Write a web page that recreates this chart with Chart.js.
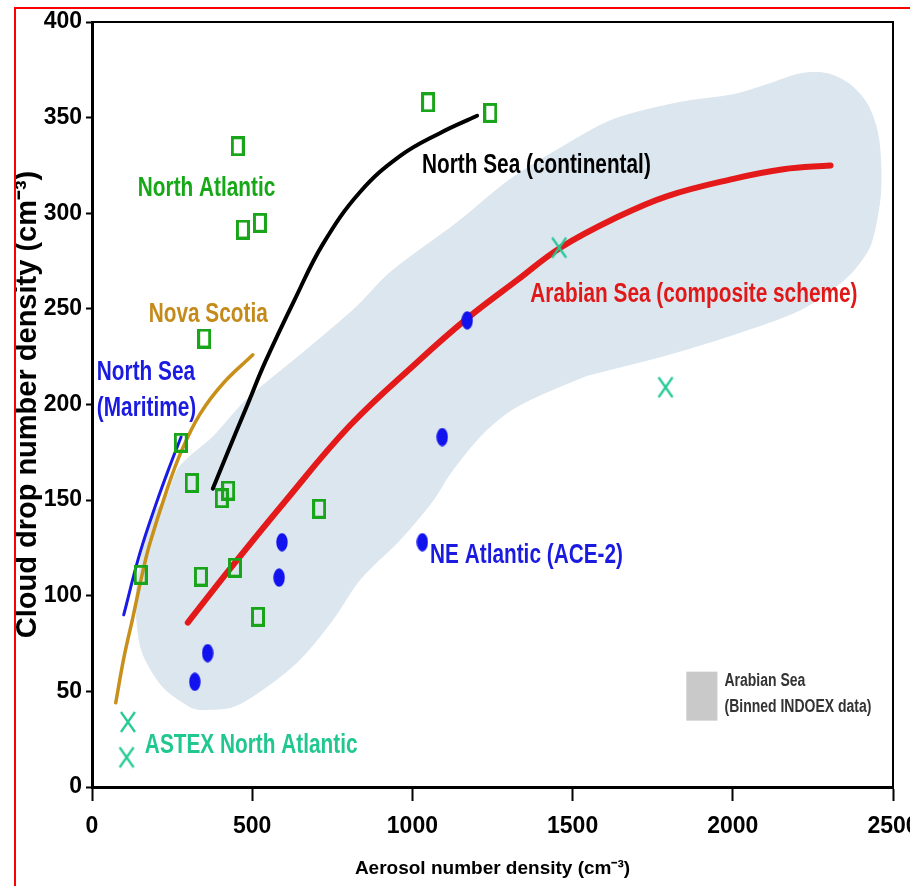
<!DOCTYPE html>
<html>
<head>
<meta charset="utf-8">
<script src="https://cdn.jsdelivr.net/npm/chart.js@4.4.1/dist/chart.umd.min.js"></script>
<style>
  html, body { margin: 0; padding: 0; background: #fff; overflow: hidden; }
  #wrap { position: relative; width: 910px; height: 886px; }
  #frame { position: absolute; left: 14px; top: 7px; width: 920px; height: 900px;
           border-left: 2px solid #f00; border-top: 2px solid #f00; pointer-events: none; }
</style>
</head>
<body>
<div id="wrap">
  <canvas id="chart" width="910" height="886"></canvas>
  <div id="frame"></div>
</div>
<script>
// Tick labels
var xTickValues = [0, 500, 1000, 1500, 2000, 2500];
var yTickValues = [0, 50, 100, 150, 200, 250, 300, 350, 400];

// North Atlantic (open squares)
var northAtlanticX = [455, 471, 524, 350, 277, 311, 425, 405, 709, 152, 340, 446, 518, 1049, 1243];
var northAtlanticY = [335, 291.5, 295, 234.5, 180, 159, 155, 151, 145.5, 111, 110, 114.7, 89, 358, 352.5];

// NE Atlantic (ACE-2) (filled dots)
var aceX = [321, 361, 584, 593, 1031, 1093, 1171];
var aceY = [55, 70, 109.5, 128, 128, 183, 244];

// ASTEX North Atlantic (crosses)
var astexX = [112, 108, 1458, 1790];
var astexY = [34, 15.5, 282, 209];

// Arabian Sea (composite scheme) curve
var arabianX = [299, 440, 596, 805, 1014, 1171, 1327, 1462, 1640, 1796, 2002, 2158, 2305];
var arabianY = [86, 116, 148, 189, 222, 245, 265, 282, 298, 309, 318, 323, 325];

// North Sea (continental) curve
var continentalX = [377, 421, 483, 540, 633, 721, 836, 962, 1087, 1202];
var continentalY = [156, 174, 199, 222, 255, 284, 311, 330, 342, 351];

// Nova Scotia curve
var novaScotiaX = [74, 100, 128, 155, 180, 233, 280, 337, 409, 502];
var novaScotiaY = [44, 68, 89, 110, 127, 155, 176, 195, 211, 226];

// North Sea (Maritime) curve
var maritimeX = [99, 149, 202, 250, 278];
var maritimeY = [90, 122, 149, 171, 183];

// Arabian Sea binned INDOEX data envelope (outline, closed)
var envelopeX = [337, 305, 221, 158, 140, 140, 180, 233, 273, 377, 483, 671, 827, 930, 1140, 1305, 1471, 1627,
  1836, 2002, 2108, 2212, 2296, 2368, 2421, 2452, 2462, 2459, 2430, 2384, 2337, 2212, 2002, 1796, 1587, 1534,
  1327, 1221, 1118, 1065, 962, 837, 752, 649, 546, 440, 337];
var envelopeY = [40.4, 42, 52.4, 70, 87.2, 104.5, 139.6, 151.7, 167.4, 183, 202.6, 228.8, 251.3, 269, 295.2, 317.7, 335, 349,
  358, 362, 367.3, 373, 373, 367, 356.7, 342, 324.3, 307, 283.5, 271.5, 263.7, 249.6, 236.6, 226, 217, 214.5,
  199, 185, 164, 150, 129.4, 108.6, 87.6, 66.7, 52.6, 42, 40.4];

function pts(xs, ys) {
  return xs.map(function (x, i) { return { x: x, y: ys[i] }; });
}

function makeMarker(w, h, draw) {
  var c = document.createElement('canvas');
  c.width = w; c.height = h;
  draw(c.getContext('2d'), w, h);
  return c;
}

var squareMark = makeMarker(14, 20, function (g, w, h) {
  g.strokeStyle = '#19a519'; g.lineWidth = 3;
  g.strokeRect(1.5, 1.5, w - 3, h - 3);
});
var dotMark = makeMarker(12, 19, function (g, w, h) {
  g.fillStyle = '#1212ee';
  g.beginPath(); g.ellipse(w / 2, h / 2, w / 2 - 0.3, h / 2 - 0.3, 0, 0, Math.PI * 2); g.fill();
});
var crossMark = makeMarker(18, 24, function (g, w, h) {
  g.strokeStyle = '#22c994'; g.lineWidth = 2.2;
  g.beginPath();
  g.moveTo(2, 2); g.lineTo(w - 2, h - 2);
  g.moveTo(w - 2, 2); g.lineTo(2, h - 2);
  g.stroke();
});

var tickFont = { family: "'Liberation Sans', sans-serif", size: 23, weight: 'bold' };
var xTitleFont = { family: "'Liberation Sans', sans-serif", size: 19, weight: 'bold' };

// Text labels placed in data units (left edge, vertical middle)
var labels = [
  { text: 'North Atlantic', x: 143, y: 313, color: '#17a817' },
  { text: 'Nova Scotia', x: 177, y: 247, color: '#c48a1a' },
  { text: 'North Sea', x: 15, y: 217, color: '#1a1ae0' },
  { text: '(Maritime)', x: 15, y: 198, color: '#1a1ae0' },
  { text: 'North Sea (continental)', x: 1030, y: 325, color: '#000000' },
  { text: 'Arabian Sea (composite scheme)', x: 1368, y: 257.5, color: '#e01818' },
  { text: 'NE Atlantic (ACE-2)', x: 1055, y: 121, color: '#1a1ae0' },
  { text: 'ASTEX North Atlantic', x: 165, y: 22, color: '#20c88f' }
];
var legendBox = { x0: 1855, x1: 1952, y0: 60.3, y1: 34.7, textX: 1974, line1: 55.7, line2: 42 };

function drawCondensed(ctx, text, px, py, size, color) {
  ctx.save();
  ctx.translate(px, py);
  ctx.scale(0.8, 1.08);
  ctx.font = 'bold ' + size + "px 'Liberation Sans', sans-serif";
  ctx.fillStyle = color;
  ctx.textAlign = 'left';
  ctx.textBaseline = 'middle';
  ctx.fillText(text, 0, 0);
  ctx.restore();
}

var overlayPlugin = {
  id: 'overlay',
  afterDatasetsDraw: function (chart) {
    var ctx = chart.ctx, xs = chart.scales.x, ys = chart.scales.y, a = chart.chartArea;
    ctx.save();
    // frame on top and right
    ctx.strokeStyle = '#000';
    ctx.lineWidth = 2;
    ctx.beginPath();
    ctx.moveTo(a.left, a.top);
    ctx.lineTo(a.right, a.top);
    ctx.lineTo(a.right, a.bottom);
    ctx.stroke();

    labels.forEach(function (l) {
      drawCondensed(ctx, l.text, xs.getPixelForValue(l.x), ys.getPixelForValue(l.y), 26, l.color);
    });

    // legend for the shaded envelope
    var lx0 = xs.getPixelForValue(legendBox.x0), lx1 = xs.getPixelForValue(legendBox.x1);
    var ly0 = ys.getPixelForValue(legendBox.y0), ly1 = ys.getPixelForValue(legendBox.y1);
    ctx.fillStyle = '#c9c9c9';
    ctx.fillRect(lx0, ly0, lx1 - lx0, ly1 - ly0);
    drawCondensed(ctx, 'Arabian Sea', xs.getPixelForValue(legendBox.textX), ys.getPixelForValue(legendBox.line1), 17.5, '#333');
    drawCondensed(ctx, '(Binned INDOEX data)', xs.getPixelForValue(legendBox.textX), ys.getPixelForValue(legendBox.line2), 17.5, '#333');
    ctx.restore();
  }
};

function curve(data, color, width) {
  return {
    data: data, showLine: true, borderColor: color, backgroundColor: color,
    borderWidth: width, pointRadius: 0, fill: false,
    tension: 0.4, borderCapStyle: 'round', order: 1
  };
}

function plainLabel(v) { return String(v); }

new Chart(document.getElementById('chart').getContext('2d'), {
  type: 'scatter',
  data: {
    datasets: [
      {
        label: 'Arabian Sea (Binned INDOEX data)', data: pts(envelopeX, envelopeY),
        showLine: true, fill: 'shape', backgroundColor: '#dce6ee', borderColor: '#dce6ee',
        borderWidth: 1, pointRadius: 0, tension: 0.3, order: 10
      },
      curve(pts(arabianX, arabianY), '#e41a1a', 6),
      curve(pts(continentalX, continentalY), '#000000', 4),
      curve(pts(novaScotiaX, novaScotiaY), '#c8901a', 3.5),
      curve(pts(maritimeX, maritimeY), '#1a1ae6', 3),
      { label: 'North Atlantic', data: pts(northAtlanticX, northAtlanticY), pointStyle: squareMark, pointRadius: 8, order: 0 },
      { label: 'NE Atlantic (ACE-2)', data: pts(aceX, aceY), pointStyle: dotMark, pointRadius: 8, order: 0 },
      { label: 'ASTEX North Atlantic', data: pts(astexX, astexY), pointStyle: crossMark, pointRadius: 8, order: 0 }
    ]
  },
  options: {
    responsive: false,
    animation: false,
    layout: { padding: { left: 0, top: 22, right: 17, bottom: 0 } },
    plugins: { legend: { display: false }, tooltip: { enabled: false } },
    scales: {
      x: {
        type: 'linear', min: 0, max: 2500,
        afterBuildTicks: function (s) { s.ticks = xTickValues.map(function (v) { return { value: v }; }); },
        afterFit: function (s) { s.height = 99; s.paddingLeft = 0; s.paddingRight = 0; },
        border: { display: true, color: '#000', width: 3 },
        grid: { drawOnChartArea: false, drawTicks: true, tickLength: 14, tickWidth: 2, tickColor: '#000' },
        ticks: { color: '#000', font: tickFont, padding: 12, maxRotation: 0, callback: plainLabel },
        title: { display: true, text: 'Aerosol number density (cm\u207B\u00B3)', color: '#000', font: xTitleFont, padding: { bottom: 6 } }
      },
      y: {
        type: 'linear', min: 0, max: 400,
        afterBuildTicks: function (s) { s.ticks = yTickValues.map(function (v) { return { value: v }; }); },
        afterFit: function (s) { s.width = 92; s.paddingTop = 0; s.paddingBottom = 0; },
        border: { display: true, color: '#000', width: 3 },
        grid: { drawOnChartArea: false, drawTicks: true, tickLength: 6, tickWidth: 2, tickColor: '#000' },
        ticks: { color: '#000', font: tickFont, padding: 4, callback: plainLabel },
        title: { display: true, text: 'Cloud drop number density (cm\u207B\u00B3)', color: '#000',
                 font: { family: "'Liberation Sans', sans-serif", size: 29, weight: 'bold' }, padding: { top: 11 } }
      }
    }
  },
  plugins: [overlayPlugin]
});
</script>
</body>
</html>
